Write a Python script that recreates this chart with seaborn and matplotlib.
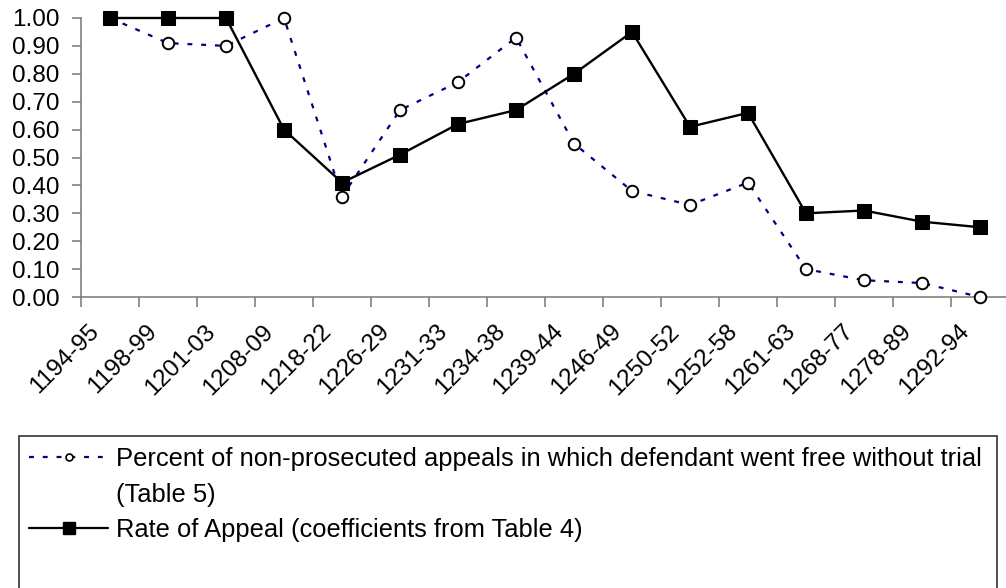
import numpy as np
import pandas as pd
import matplotlib
matplotlib.use("Agg")
import matplotlib.pyplot as plt
from matplotlib.patches import Rectangle
from matplotlib.lines import Line2D
from matplotlib.transforms import ScaledTranslation
from matplotlib.ticker import FormatStrFormatter, FixedLocator
import seaborn as sns

periods = ["1194-95", "1198-99", "1201-03", "1208-09", "1218-22", "1226-29",
           "1231-33", "1234-38", "1239-44", "1246-49", "1250-52", "1252-58",
           "1261-63", "1268-77", "1278-89", "1292-94"]
free_without_trial = [1.00, 0.91, 0.90, 1.00, 0.36, 0.67, 0.77, 0.93,
                      0.55, 0.38, 0.33, 0.41, 0.10, 0.06, 0.05, 0.00]
rate_of_appeal = [1.00, 1.00, 1.00, 0.60, 0.41, 0.51, 0.62, 0.67,
                  0.80, 0.95, 0.61, 0.66, 0.30, 0.31, 0.27, 0.25]
label_free_1 = "Percent of non-prosecuted appeals in which defendant went free without trial"
label_free_2 = "(Table 5)"
label_rate = "Rate of Appeal (coefficients from Table 4)"

df = pd.DataFrame({"pos": np.arange(len(periods)), "period": periods,
                   "free": free_without_trial, "rate": rate_of_appeal})

sns.set_theme(style="white")
plt.rcParams["font.family"] = ["Liberation Sans", "DejaVu Sans"]
plt.rcParams["text.color"] = "black"
plt.rcParams["xtick.labelcolor"] = "black"
plt.rcParams["ytick.labelcolor"] = "black"

W, H = 1006, 588
fig = plt.figure(figsize=(W / 100, H / 100), dpi=100)
ax = fig.add_axes([81 / W, (H - 297) / H, 928 / W, 279 / H])

navy = "#000080"
sns.lineplot(data=df, x="pos", y="free", ax=ax, sort=False, color=navy,
             linestyle=(0, (2.2, 4)), linewidth=1.6, marker="o", markersize=8.3,
             markerfacecolor="white", markeredgecolor="black", markeredgewidth=1.4,
             clip_on=False, zorder=3)
sns.lineplot(data=df, x="pos", y="rate", ax=ax, sort=False, color="black",
             linestyle="-", linewidth=1.7, marker="s", markersize=9.5,
             markerfacecolor="black", markeredgecolor="black",
             clip_on=False, zorder=4)

ax.set_xlim(-0.5, len(periods) - 0.5)
ax.set_ylim(0, 1)
ax.set_xlabel("")
ax.set_ylabel("")

ax.yaxis.set_major_locator(FixedLocator(np.round(np.arange(0, 1.01, 0.1), 2)))
ax.yaxis.set_major_formatter(FormatStrFormatter("%.2f"))
ax.xaxis.set_major_locator(FixedLocator(df["pos"].tolist()))
ax.set_xticklabels(periods, rotation=45, ha="right", va="top", rotation_mode="anchor")
ax.xaxis.set_minor_locator(FixedLocator(np.arange(-0.5, len(periods) - 0.5, 1.0)))

spine_col = "#808080"
for s in ["top", "right"]:
    ax.spines[s].set_visible(False)
for s in ["left", "bottom"]:
    ax.spines[s].set_color(spine_col)
    ax.spines[s].set_linewidth(1.2)

ax.tick_params(axis="y", which="major", direction="out", length=6.5, width=1.2,
               color=spine_col, labelsize=17.5, pad=9, left=True, labelcolor="black")
ax.tick_params(axis="x", which="major", length=0, labelsize=17.5, pad=14,
               labelcolor="black", bottom=True)
ax.tick_params(axis="x", which="minor", direction="out", length=7, width=1.2,
               color=spine_col, bottom=True)
ax.grid(False)

offset = ScaledTranslation(-22 / 100, -4 / 100, fig.dpi_scale_trans)
for lbl in ax.get_xticklabels():
    lbl.set_transform(lbl.get_transform() + offset)

h_free = Line2D([], [], color=navy, linestyle=(0, (2.2, 4)), linewidth=1.6,
                marker="o", markersize=5, markerfacecolor="white",
                markeredgecolor="black", markeredgewidth=1.2)
h_blank = Line2D([], [], color="none", linestyle="none")
h_rate = Line2D([], [], color="black", linestyle="-", linewidth=1.6,
                marker="s", markersize=8, markerfacecolor="black",
                markeredgecolor="black")
leg = fig.legend([h_free, h_blank, h_rate], [label_free_1, label_free_2, label_rate],
                 loc="upper left", bbox_to_anchor=(19 / W, 1 - 437 / H),
                 bbox_transform=fig.transFigure, frameon=False, fontsize=18.4,
                 handlelength=3.1, handletextpad=0.3, labelspacing=0.45,
                 borderaxespad=0)
for t in leg.get_texts():
    t.set_color("black")

fig.patches.append(Rectangle((19 / W, -0.02), (997 - 19) / W, (H - 436) / H + 0.02,
                             transform=fig.transFigure, fill=False,
                             edgecolor="#333333", linewidth=1.2, figure=fig))

fig.savefig("out.png", dpi=100)
